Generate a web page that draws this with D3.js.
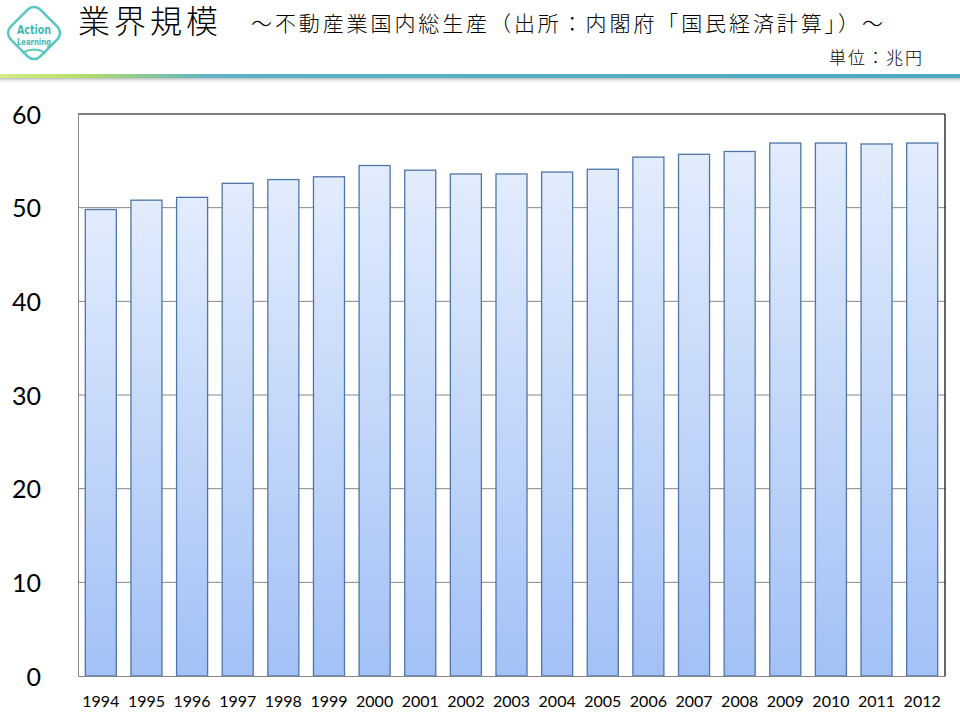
<!DOCTYPE html>
<html><head><meta charset="utf-8">
<script src="https://cdn.jsdelivr.net/npm/d3@7"></script>
<style>body{margin:0;background:#fff}svg{display:block}</style>
</head><body>
<svg id="c" width="960" height="720"></svg>
<script>
const years = ["1994","1995","1996","1997","1998","1999","2000","2001","2002","2003","2004","2005","2006","2007","2008","2009","2010","2011","2012"];
const values = [49.8,50.8,51.1,52.6,53.0,53.3,54.5,54.0,53.6,53.6,53.8,54.1,55.4,55.7,56.0,56.9,56.9,56.8,56.9];
const yTicks = [0,10,20,30,40,50,60];
const titleText = "業界規模";
const subtitleText = "～不動産業国内総生産（出所：内閣府「国民経済計算」）～";
const unitText = "単位：兆円";

const svg = d3.select("#c");
const defs = svg.append("defs");
const bg = defs.append("linearGradient").attr("id","barg").attr("x1",0).attr("y1",0).attr("x2",0).attr("y2",1);
bg.append("stop").attr("offset","0%").attr("stop-color","#e2ecfd");
bg.append("stop").attr("offset","100%").attr("stop-color","#a3c1f6");
const lg = defs.append("linearGradient").attr("id","lineg").attr("x1",0).attr("y1",0).attr("x2",1).attr("y2",0);
lg.append("stop").attr("offset","0%").attr("stop-color","#d2ec8a");
lg.append("stop").attr("offset","8%").attr("stop-color","#b8de6a");
lg.append("stop").attr("offset","22%").attr("stop-color","#5eb3c4");
lg.append("stop").attr("offset","100%").attr("stop-color","#4aa8c0");
const sg = defs.append("linearGradient").attr("id","shadg").attr("x1",0).attr("y1",0).attr("x2",0).attr("y2",1);
sg.append("stop").attr("offset","0%").attr("stop-color","#9aa0a4").attr("stop-opacity",0.7);
sg.append("stop").attr("offset","100%").attr("stop-color","#ffffff").attr("stop-opacity",0);

// header line
svg.append("rect").attr("x",0).attr("y",78).attr("width",960).attr("height",6).attr("fill","url(#shadg)");
svg.append("rect").attr("x",0).attr("y",74).attr("width",960).attr("height",4).attr("fill","url(#lineg)");

// logo
const logo = svg.append("g").attr("transform","translate(34,33)");
logo.append("rect").attr("x",-21).attr("y",-21).attr("width",42).attr("height",42).attr("rx",9)
  .attr("transform","rotate(45)").attr("fill","#fff").attr("stroke","#56c7c0").attr("stroke-width",2.5);
logo.append("path").attr("d","M-12,20 Q0,13 12,20").attr("fill","none").attr("stroke","#56c7c0").attr("stroke-width",2);
logo.append("text").attr("x",-17).attr("y",1).attr("textLength",34).attr("lengthAdjust","spacingAndGlyphs")
  .attr("font-family","'DejaVu Sans', sans-serif")
  .attr("font-size",13).attr("font-weight","bold").attr("fill","#3fbab4").text("Action");
logo.append("text").attr("x",-17).attr("y",12).attr("textLength",34).attr("lengthAdjust","spacingAndGlyphs")
  .attr("font-family","'DejaVu Sans', sans-serif")
  .attr("font-size",8.5).attr("font-weight","bold").attr("fill","#3fbab4").text("Learning");

// titles
svg.append("text").attr("x",78).attr("y",33).attr("font-family","'Noto Sans CJK JP', sans-serif")
  .attr("font-size",32).attr("font-weight",300).attr("letter-spacing",4).attr("fill","#000").text(titleText);
svg.append("text").attr("x",251).attr("y",31).attr("font-family","'Noto Sans CJK JP', sans-serif")
  .attr("font-size",21).attr("font-weight",300).attr("letter-spacing",2.9).attr("fill","#000").text(subtitleText);
svg.append("text").attr("x",829).attr("y",64).attr("font-family","'Noto Sans CJK JP', sans-serif")
  .attr("font-size",17).attr("font-weight",300).attr("letter-spacing",2).attr("fill","#000").text(unitText);

// chart
const m = {left:78, right:945, top:114, bottom:676};
const x = d3.scaleBand().domain(years).range([m.left, m.right]).paddingInner(0.32).paddingOuter(0.16);
const y = d3.scaleLinear().domain([0,60]).range([m.bottom, m.top]);

// gridlines
svg.append("g").selectAll("line").data(yTicks.filter(t=>t>0 && t<60)).join("line")
  .attr("x1",m.left).attr("x2",m.right).attr("y1",d=>y(d)).attr("y2",d=>y(d))
  .attr("stroke","#868686").attr("stroke-width",1);

// bars
svg.append("g").selectAll("rect").data(values).join("rect")
  .attr("x",(d,i)=>x(years[i])).attr("width",x.bandwidth())
  .attr("y",d=>y(d)).attr("height",d=>y(0)-y(d))
  .attr("fill","url(#barg)").attr("stroke","#4f76a6").attr("stroke-width",1.3);

// frame: top & right black, left & bottom gray
svg.append("line").attr("x1",m.left).attr("x2",m.right).attr("y1",m.top).attr("y2",m.top).attr("stroke","#000").attr("stroke-width",1.2);
svg.append("line").attr("x1",m.right).attr("x2",m.right).attr("y1",m.top).attr("y2",m.bottom).attr("stroke","#000").attr("stroke-width",1.2);

const yAxis = d3.axisLeft(y).tickValues(yTicks).tickSize(0).tickPadding(37);
const ya = svg.append("g").attr("transform",`translate(${m.left},0)`).call(yAxis);
ya.select(".domain").attr("stroke","#868686");
ya.selectAll("text").attr("font-family","Lato, 'Open Sans', sans-serif").attr("font-size",25).attr("fill","#000").attr("dy","0.36em");

const xAxis = d3.axisBottom(x).tickSize(0).tickPadding(20);
const xa = svg.append("g").attr("transform",`translate(0,${m.bottom})`).call(xAxis);
xa.select(".domain").attr("stroke","#868686");
xa.selectAll("text").attr("font-family","Lato, 'Open Sans', sans-serif").attr("font-size",16).attr("fill","#000");
</script>
</body></html>
